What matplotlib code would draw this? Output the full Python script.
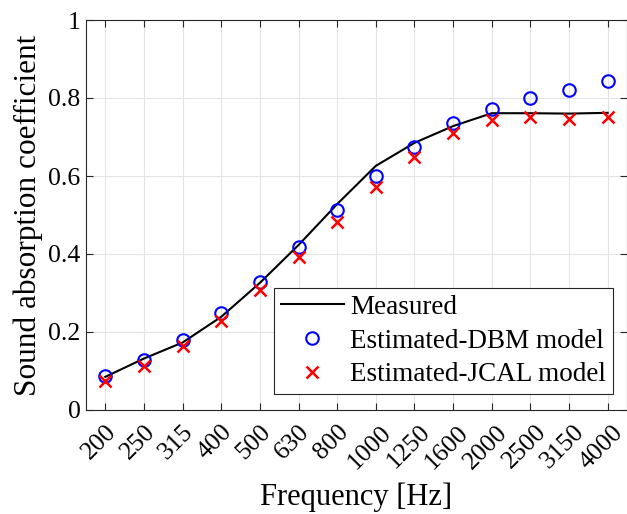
import matplotlib.pyplot as plt
import numpy as np
from matplotlib.transforms import ScaledTranslation

plt.rcParams['font.family'] = ['Liberation Serif', 'DejaVu Serif']
plt.rcParams['mathtext.fontset'] = 'stix'

freqs = ['200', '250', '315', '400', '500', '630', '800', '1000',
         '1250', '1600', '2000', '2500', '3150', '4000']
measured = [0.085, 0.132, 0.173, 0.239, 0.326, 0.423, 0.528, 0.626,
            0.685, 0.728, 0.761, 0.761, 0.760, 0.762]
dbm = [0.088, 0.128, 0.179, 0.248, 0.327, 0.419, 0.513, 0.601,
       0.675, 0.735, 0.773, 0.801, 0.821, 0.843]
jcal = [0.075, 0.113, 0.164, 0.229, 0.308, 0.392, 0.483, 0.571,
        0.648, 0.711, 0.744, 0.752, 0.746, 0.752]

x = np.arange(1, len(freqs) + 1)

fig = plt.figure(figsize=(6.27, 5.14), dpi=100)
ax = fig.add_axes([86 / 627, 104 / 514, 541 / 627, 390 / 514])

ax.plot(x, measured, color='black', lw=1.5, label='Measured')
ax.plot(x, dbm, 'o', ms=9, mfc='none', mec='blue', mew=1.5,
        label='Estimated-DBM model')
ax.plot(x, jcal, 'x', ms=9, color='red', mew=1.8,
        label='Estimated-JCAL model')

ax.set_xlim(0.5, 14.5)
ax.set_ylim(0, 1)
ax.set_xticks(x)
ax.set_xticklabels(freqs, rotation=45, ha='center', fontsize=18.5)
ax.set_yticks([0, 0.2, 0.4, 0.6, 0.8, 1])
ax.set_yticklabels(['0', '0.2', '0.4', '0.6', '0.8', '1'], fontsize=18.5)
ax.tick_params(direction='in', top=True, right=True, length=5,
               color='#262626', pad=4)
ax.tick_params(axis='x', pad=8)
# shift rotated labels slightly left like the original
shift = ScaledTranslation(-6 / 100, 0, fig.dpi_scale_trans)
for lbl in ax.get_xticklabels():
    lbl.set_transform(lbl.get_transform() + shift)
ax.grid(True, color='#e3e3e3', lw=0.8)
ax.set_axisbelow(True)
for s in ax.spines.values():
    s.set_color('#262626')
    s.set_linewidth(0.8)

ax.set_xlabel('Frequency [Hz]', fontsize=22, labelpad=7)
ax.set_ylabel('Sound absorption coefficient', fontsize=22.5, labelpad=4)

leg = ax.legend(loc='lower right', bbox_to_anchor=(0.974, 0.041), fontsize=19.5,
                fancybox=False, edgecolor='#262626', framealpha=1,
                handlelength=2.3, borderpad=0.25, labelspacing=0.32,
                handletextpad=0.25, borderaxespad=0)
leg.get_frame().set_linewidth(0.8)

fig.savefig('out.png', dpi=100)
